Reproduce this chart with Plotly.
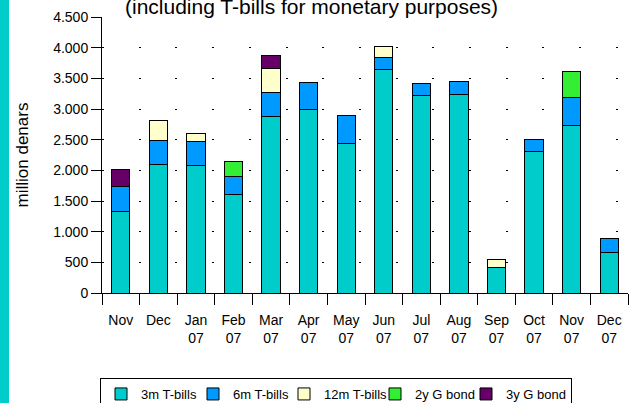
import plotly.graph_objects as go

# Monthly auction amounts, million denars
months = ["Nov", "Dec", "Jan<br>07", "Feb<br>07", "Mar<br>07", "Apr<br>07", "May<br>07",
          "Jun<br>07", "Jul<br>07", "Aug<br>07", "Sep<br>07", "Oct<br>07", "Nov<br>07", "Dec<br>07"]
t_bills_3m = [1330, 2090, 2080, 1600, 2870, 2985, 2440, 3650, 3220, 3240, 415, 2300, 2725, 660]
t_bills_6m = [400, 395, 395, 300, 400, 445, 455, 195, 195, 210, None, 205, 455, 235]
t_bills_12m = [None, 320, 130, None, 390, None, None, 175, None, None, 125, None, None, None]
g_bond_2y = [None, None, None, 250, None, None, None, None, None, None, None, None, 430, None]
g_bond_3y = [290, None, None, None, 220, None, None, None, None, None, None, None, None, None]

y_ticks = [0, 500, 1000, 1500, 2000, 2500, 3000, 3500, 4000, 4500]
y_tick_text = ["0", "500", "1.000", "1.500", "2.000", "2.500", "3.000", "3.500", "4.000", "4.500"]

# name, values, fill colour, legend entry width (px)
series = [
    ("3m T-bills", t_bills_3m, "#00CCCC", 47),
    ("6m T-bills", t_bills_6m, "#0099FF", 46),
    ("12m T-bills", t_bills_12m, "#FFFFCC", 46),
    ("2y G bond", g_bond_2y, "#33EE33", 46),
    ("3y G bond", g_bond_3y, "#660066", 60),
]

FONT = "Liberation Sans, Arial, sans-serif"

fig = go.Figure()
for name, vals, color, lw in series:
    fig.add_trace(go.Bar(
        x=months, y=vals, name=name, legendwidth=lw,
        marker=dict(color=color, line=dict(color="black", width=1)),
    ))

W, H = 631, 403
L, R, T, B = 102, 3, 17, 110
pw, ph = W - L - R, H - T - B

fig.update_layout(
    width=W, height=H,
    margin=dict(l=L, r=R, t=T, b=B),
    paper_bgcolor="white", plot_bgcolor="white",
    barmode="stack", bargap=0.51,
    font=dict(family=FONT, size=14, color="black"),
    showlegend=True,
    legend=dict(
        orientation="h", traceorder="normal",
        xref="container", x=100 / W, xanchor="left",
        yref="container", y=1 - 378 / H, yanchor="top",
        bordercolor="black", borderwidth=1,
        font=dict(family=FONT, size=13, color="black"),
    ),
    xaxis=dict(
        type="category", tickson="boundaries",
        showline=True, linecolor="black", linewidth=1,
        ticks="outside", ticklen=11, tickcolor="black", tickwidth=1,
        showgrid=False, tickfont=dict(size=14), ticklabelstandoff=14,
    ),
    yaxis=dict(
        range=[0, 4500], tickvals=y_ticks, ticktext=y_tick_text,
        showline=True, linecolor="black", linewidth=1,
        ticks="outside", ticklen=10, tickcolor="black", tickwidth=1,
        showgrid=True, gridcolor="black", gridwidth=1, griddash="2px,34.7px",
        zeroline=False, tickfont=dict(size=14),
        title=dict(text="million denars", font=dict(size=17), standoff=20),
    ),
    annotations=[dict(
        text="(including T-bills for monetary purposes)",
        xref="paper", yref="paper",
        x=(311.7 - L) / pw, xanchor="center",
        y=1 + (T - 20.5) / ph, yanchor="bottom",
        showarrow=False, font=dict(family=FONT, size=21, color="black"),
    )],
    shapes=[dict(
        type="rect", xref="paper", yref="paper",
        x0=-L / pw, x1=(9 - L) / pw,
        y0=-B / ph, y1=1 + T / ph,
        fillcolor="#00CCCC", line=dict(width=0), layer="below",
    )],
)

fig.write_html("out.html")
